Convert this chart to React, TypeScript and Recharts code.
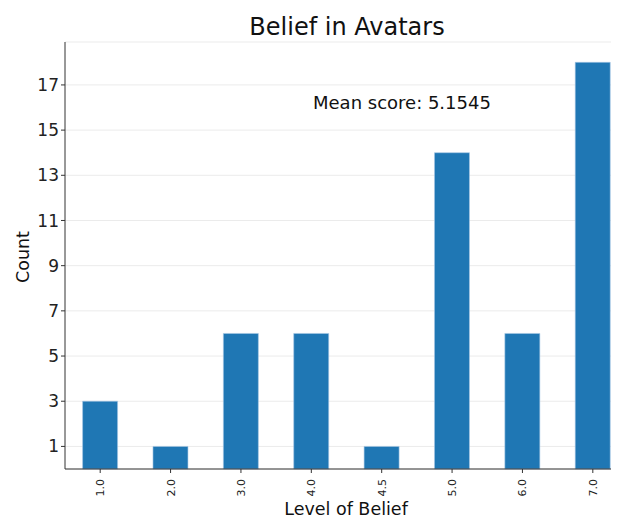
import { BarChart, Bar, XAxis, YAxis, CartesianGrid, Customized } from 'recharts';

const levels = ['1.0', '2.0', '3.0', '4.0', '4.5', '5.0', '6.0', '7.0'];
const counts = [3, 1, 6, 6, 1, 14, 6, 18];
const yTicks = [1, 3, 5, 7, 9, 11, 13, 15, 17];
const title = 'Belief in Avatars';
const meanLabel = 'Mean score: 5.1545';
const xTitle = 'Level of Belief';
const yTitle = 'Count';

const data = levels.map((level, i) => ({ level, count: counts[i] }));

const FONT = '"DejaVu Sans", sans-serif';

const RotatedTick = (props: any) => {
  const { x, y, payload } = props;
  return (
    <text
      transform={`translate(${x + 4},${y + 4}) rotate(-90)`}
      textAnchor="end"
      fontSize={11}
      fontFamily={FONT}
      fill="#222"
    >
      {payload.value}
    </text>
  );
};

// chart sits at page (8, 8) because of the body margin
const Overlay = () => (
  <g fontFamily={FONT} fill="#111">
    <text x={339} y={27} textAnchor="middle" fontSize={24}>
      {title}
    </text>
    <text x={305} y={101} fontSize={18}>
      {meanLabel}
    </text>
    <text x={338} y={507} textAnchor="middle" fontSize={17.5}>
      {xTitle}
    </text>
    <text transform="translate(21,249) rotate(-90)" textAnchor="middle" fontSize={17.5}>
      {yTitle}
    </text>
  </g>
);

const App = () => {
  return (
    <div style={{ width: 611, height: 511, overflow: 'hidden' }}>
      <BarChart
        width={640}
        height={511}
        data={data}
        margin={{ top: 34, right: 20, bottom: 0, left: 0 }}
        barCategoryGap="25%"
      >
        <CartesianGrid vertical={false} stroke="#ebebeb" />
        <XAxis
          dataKey="level"
          tick={<RotatedTick />}
          tickLine={{ stroke: '#333' }}
          axisLine={{ stroke: '#333' }}
          tickSize={4}
          height={50}
          interval={0}
        />
        <XAxis
          xAxisId="top"
          dataKey="level"
          orientation="top"
          tick={false}
          tickLine={false}
          axisLine={{ stroke: '#999' }}
          height={0}
        />
        <YAxis
          domain={[0, 18.9]}
          ticks={yTicks}
          width={57}
          tickSize={4}
          tickLine={{ stroke: '#333' }}
          axisLine={{ stroke: '#333' }}
          tick={{ fontSize: 17, fontFamily: FONT, fill: '#222' }}
        />
        <Bar dataKey="count" fill="#1f77b4" stroke="#a8c8e4" strokeWidth={0.6} isAnimationActive={false} />
        <Customized component={Overlay} />
      </BarChart>
    </div>
  );
};

export default App;
